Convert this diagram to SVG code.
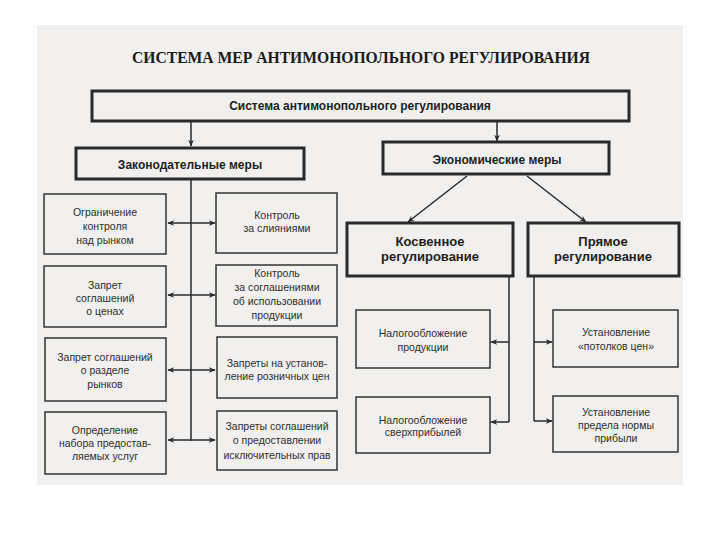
<svg xmlns="http://www.w3.org/2000/svg" width="720" height="540" viewBox="0 0 720 540">
<defs>
<marker id="ah" viewBox="0 0 10 10" refX="9" refY="5" markerWidth="7" markerHeight="7" markerUnits="userSpaceOnUse" orient="auto-start-reverse">
<path d="M0,1 L10,5 L0,9 L3,5 Z" fill="#2a2a2a"/>
</marker>
<style>
.thick{fill:#f1f0ee;stroke:#2a2a2a;stroke-width:3}
.thin{fill:#f1f0ee;stroke:#333;stroke-width:1.5}
.t{font-family:"Liberation Sans",Arial,sans-serif;font-size:10.5px;fill:#2e2e2e;text-anchor:middle}
.b{font-family:"Liberation Sans",Arial,sans-serif;font-weight:bold;font-size:12px;fill:#1e1e1e;text-anchor:middle}
.bb{font-family:"Liberation Sans",Arial,sans-serif;font-weight:bold;font-size:13px;fill:#1e1e1e;text-anchor:middle}
.title{font-family:"Liberation Serif","Times New Roman",serif;font-weight:bold;font-size:16px;fill:#1a1a1a;text-anchor:middle}
.c{fill:none;stroke:#2a2a2a;stroke-width:1.5}
</style>
</defs>
<rect x="0" y="0" width="720" height="540" fill="#ffffff"/>
<rect x="37" y="25" width="646" height="460" fill="#f1f0ee"/>
<text class="title" x="361" y="63" textLength="458" lengthAdjust="spacingAndGlyphs">СИСТЕМА  МЕР  АНТИМОНОПОЛЬНОГО  РЕГУЛИРОВАНИЯ</text>

<g id="connectors">
<line class="c" x1="191" y1="122" x2="191" y2="146" marker-end="url(#ah)"/>
<line class="c" x1="497" y1="122" x2="497" y2="141" marker-end="url(#ah)"/>
<line class="c" x1="191" y1="180" x2="191" y2="441" stroke-width="2"/>
<line class="c" x1="168" y1="223" x2="215" y2="223" marker-start="url(#ah)" marker-end="url(#ah)"/>
<line class="c" x1="168" y1="295" x2="215" y2="295" marker-start="url(#ah)" marker-end="url(#ah)"/>
<line class="c" x1="168" y1="370" x2="215" y2="370" marker-start="url(#ah)" marker-end="url(#ah)"/>
<line class="c" x1="168" y1="440" x2="215" y2="440" marker-start="url(#ah)" marker-end="url(#ah)"/>
<line class="c" x1="467" y1="176" x2="408" y2="222" marker-end="url(#ah)"/>
<line class="c" x1="527" y1="176" x2="586" y2="222" marker-end="url(#ah)"/>
<polyline class="c" points="509,277 509,422"/>
<line class="c" x1="509" y1="342" x2="491" y2="342" marker-end="url(#ah)"/>
<line class="c" x1="509" y1="422" x2="491" y2="422" marker-end="url(#ah)"/>
<polyline class="c" points="534,277 534,421"/>
<line class="c" x1="534" y1="342" x2="552" y2="342" marker-end="url(#ah)"/>
<line class="c" x1="534" y1="421" x2="552" y2="421" marker-end="url(#ah)"/>
</g>

<g id="n-system">
<rect class="thick" x="92" y="91" width="537" height="30"/>
<text class="b" x="360" y="110">Система антимонопольного регулирования</text>
</g>
<g id="n-zakon">
<rect class="thick" x="76" y="148" width="228" height="31"/>
<text class="b" x="190" y="169" font-size="12.5">Законодательные меры</text>
</g>
<g id="n-econ">
<rect class="thick" x="383" y="142" width="226" height="32"/>
<text class="b" x="497" y="164" font-size="12.5">Экономические меры</text>
</g>

<g id="n-l1">
<rect class="thin" x="44" y="194" width="122" height="60"/>
<text class="t" x="105" y="216">Ограничение</text>
<text class="t" x="105" y="230">контроля</text>
<text class="t" x="105" y="244">над рынком</text>
</g>
<g id="n-l2">
<rect class="thin" x="44" y="266" width="122" height="61"/>
<text class="t" x="105" y="289">Запрет</text>
<text class="t" x="105" y="302">соглашений</text>
<text class="t" x="105" y="315">о ценах</text>
</g>
<g id="n-l3">
<rect class="thin" x="45" y="338" width="121" height="63"/>
<text class="t" x="105" y="361">Запрет соглашений</text>
<text class="t" x="105" y="374">о разделе</text>
<text class="t" x="105" y="388">рынков</text>
</g>
<g id="n-l4">
<rect class="thin" x="45" y="412" width="121" height="62"/>
<text class="t" x="105" y="434">Определение</text>
<text class="t" x="105" y="447">набора предостав-</text>
<text class="t" x="105" y="460">ляемых услуг</text>
</g>

<g id="n-r1">
<rect class="thin" x="216" y="193" width="121" height="60"/>
<text class="t" x="277" y="219">Контроль</text>
<text class="t" x="277" y="232">за слияниями</text>
</g>
<g id="n-r2">
<rect class="thin" x="216" y="265" width="121" height="61"/>
<text class="t" x="277" y="277">Контроль</text>
<text class="t" x="277" y="291">за соглашениями</text>
<text class="t" x="277" y="305">об использовании</text>
<text class="t" x="277" y="319">продукции</text>
</g>
<g id="n-r3">
<rect class="thin" x="217" y="337" width="120" height="61"/>
<text class="t" x="277" y="367">Запреты на установ-</text>
<text class="t" x="277" y="380">ление розничных цен</text>
</g>
<g id="n-r4">
<rect class="thin" x="217" y="411" width="120" height="59"/>
<text class="t" x="277" y="430" font-size="9.5">Запреты соглашений</text>
<text class="t" x="277" y="444" font-size="9.5">о предоставлении</text>
<text class="t" x="277" y="459" font-size="9.5">исключительных прав</text>
</g>

<g id="n-kosv">
<rect class="thick" x="347" y="223" width="166" height="53"/>
<text class="bb" x="430" y="246">Косвенное</text>
<text class="bb" x="430" y="261">регулирование</text>
</g>
<g id="n-pryam">
<rect class="thick" x="528" y="223" width="151" height="53"/>
<text class="bb" x="603" y="246">Прямое</text>
<text class="bb" x="603" y="261">регулирование</text>
</g>

<g id="n-nal1">
<rect class="thin" x="356" y="310" width="134" height="58"/>
<text class="t" x="423" y="337">Налогообложение</text>
<text class="t" x="423" y="351">продукции</text>
</g>
<g id="n-nal2">
<rect class="thin" x="356" y="397" width="134" height="56"/>
<text class="t" x="423" y="424">Налогообложение</text>
<text class="t" x="423" y="436">сверхприбылей</text>
</g>
<g id="n-pot">
<rect class="thin" x="553" y="310" width="125" height="57"/>
<text class="t" x="616" y="336">Установление</text>
<text class="t" x="616" y="350">«потолков цен»</text>
</g>
<g id="n-pred">
<rect class="thin" x="553" y="396" width="125" height="56"/>
<text class="t" x="616" y="416">Установление</text>
<text class="t" x="616" y="429">предела нормы</text>
<text class="t" x="616" y="442">прибыли</text>
</g>
</svg>
